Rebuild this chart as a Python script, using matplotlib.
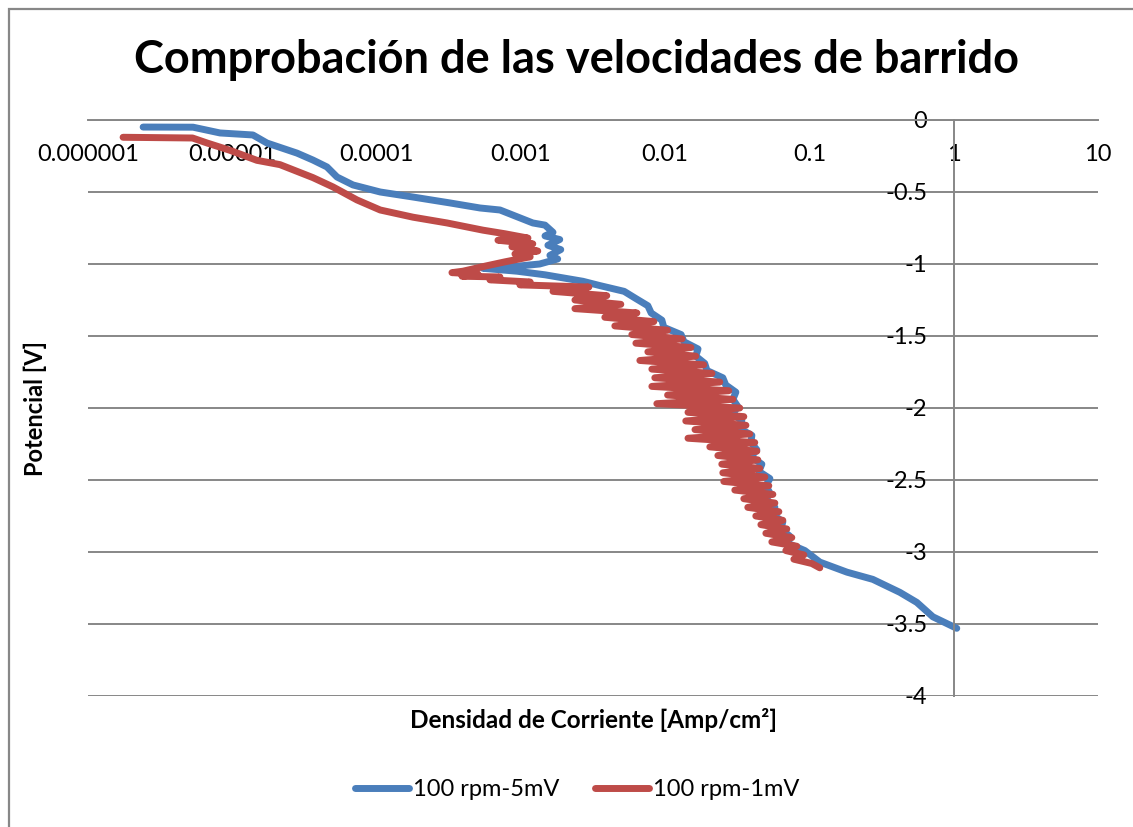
import matplotlib
matplotlib.use("Agg")
import matplotlib.pyplot as plt
from matplotlib.patches import Rectangle
from matplotlib.ticker import FixedLocator, FixedFormatter, NullLocator

plt.rcParams['font.family'] = ['Lato', 'DejaVu Sans']

# 100 rpm, scan rate 5 mV/s: current density [A/cm2] vs potential [V]
current_5mv = [
    2.41e-6, 5.35e-6, 8.22e-6, 1.39e-5, 1.74e-5, 2.81e-5, 3.62e-5, 4.53e-5,
    5.32e-5, 6.86e-5, 1.06e-4, 1.79e-4, 3.23e-4, 5.21e-4, 7.17e-4, 1.21e-3,
    1.47e-3, 1.67e-3, 1.47e-3, 1.86e-3, 1.54e-3, 1.89e-3, 1.59e-3, 1.80e-3,
    1.35e-3, 8.40e-4, 5.46e-4, 9.40e-4, 1.47e-3, 2.69e-3, 3.53e-3,
    5.20e-3, 6.27e-3, 7.59e-3, 8.00e-3, 9.49e-3, 9.79e-3, 1.29e-2, 1.35e-2,
    1.69e-2, 1.63e-2, 1.88e-2, 1.95e-2, 2.51e-2, 2.63e-2, 3.09e-2, 2.95e-2,
    3.19e-2, 2.95e-2, 3.40e-2, 3.24e-2, 3.99e-2, 3.93e-2, 4.32e-2, 3.93e-2,
    4.68e-2, 4.46e-2, 5.32e-2, 4.99e-2, 5.32e-2, 4.99e-2, 5.76e-2, 5.58e-2,
    6.54e-2, 6.34e-2, 7.31e-2, 7.09e-2,
    9.29e-2, 0.118, 0.182, 0.275, 0.423, 0.555, 0.717, 1.05,
]
potential_5mv = [
    -0.049, -0.05, -0.09, -0.104, -0.16, -0.23, -0.278, -0.326,
    -0.396, -0.451, -0.50, -0.535, -0.576, -0.611, -0.625, -0.715,
    -0.73, -0.78, -0.805, -0.83, -0.87, -0.90, -0.94, -0.965,
    -1.00, -1.02, -1.03, -1.05, -1.075, -1.12, -1.15,
    -1.19, -1.24, -1.29, -1.34, -1.39, -1.44, -1.49, -1.54,
    -1.59, -1.64, -1.69, -1.74, -1.79, -1.84, -1.89, -1.94,
    -1.99, -2.04, -2.09, -2.14, -2.19, -2.24, -2.29, -2.34,
    -2.39, -2.44, -2.49, -2.54, -2.59, -2.64, -2.69, -2.74,
    -2.79, -2.84, -2.89, -2.94,
    -2.99, -3.07, -3.14, -3.19, -3.28, -3.35, -3.45, -3.53,
]

# 100 rpm, scan rate 1 mV/s
current_1mv = [
    1.75e-6, 5.3e-6, 6.7e-6, 9.6e-6, 1.48e-5, 2.14e-5, 3.62e-5, 4.99e-5,
    7.31e-5, 1.06e-4, 1.79e-4, 3.08e-4, 5.46e-4, 7.76e-4,
    1.12e-3, 6.94e-4, 1.21e-3, 8.67e-4, 1.31e-3, 9.10e-4, 1.16e-3, 7.76e-4,
    5.64e-4, 3.97e-4, 3.33e-4, 5.04e-4, 3.91e-4, 7.16e-4, 6.11e-4, 1.16e-3,
    9.86e-4,
    2.96e-3, 1.67e-3, 3.94e-3, 2.37e-3, 4.93e-3, 2.37e-3, 6.37e-3, 3.82e-3,
    8.35e-3, 4.48e-3, 1.04e-2, 5.88e-3, 1.31e-2, 6.27e-3, 1.51e-2, 7.59e-3,
    1.63e-2, 6.68e-3, 1.85e-2, 8.09e-3, 2.11e-2, 8.48e-3, 2.39e-2, 8.09e-3,
    2.76e-2, 1.04e-2, 2.95e-2, 8.76e-3, 3.29e-2, 1.44e-2, 3.51e-2, 1.39e-2,
    3.63e-2, 1.61e-2, 3.86e-2, 1.44e-2, 4.18e-2, 2.04e-2, 4.32e-2, 2.32e-2,
    4.39e-2, 2.47e-2, 4.53e-2, 2.51e-2, 4.91e-2, 2.55e-2, 5.23e-2, 3.04e-2,
    5.58e-2, 3.51e-2, 5.76e-2, 3.74e-2, 6.14e-2, 4.25e-2, 6.54e-2, 4.61e-2,
    6.97e-2, 4.99e-2, 7.55e-2, 5.49e-2, 8.18e-2, 6.86e-2, 9.15e-2, 7.80e-2,
    0.104, 0.118,
]
potential_1mv = [
    -0.12, -0.125, -0.16, -0.21, -0.28, -0.31, -0.40, -0.465,
    -0.555, -0.625, -0.675, -0.715, -0.765, -0.79,
    -0.82, -0.835, -0.86, -0.88, -0.91, -0.93, -0.95, -0.985,
    -1.015, -1.05, -1.06, -1.07, -1.085, -1.09, -1.11, -1.125,
    -1.145,
    -1.16, -1.19, -1.22, -1.25, -1.28, -1.31, -1.34, -1.37,
    -1.40, -1.43, -1.46, -1.49, -1.52, -1.55, -1.58, -1.61,
    -1.64, -1.67, -1.70, -1.73, -1.76, -1.79, -1.82, -1.85,
    -1.88, -1.91, -1.94, -1.97, -2.00, -2.03, -2.06, -2.09,
    -2.12, -2.15, -2.18, -2.21, -2.24, -2.27, -2.30, -2.33,
    -2.36, -2.39, -2.42, -2.45, -2.48, -2.51, -2.54, -2.57,
    -2.60, -2.63, -2.66, -2.69, -2.72, -2.75, -2.78, -2.81,
    -2.84, -2.87, -2.90, -2.93, -2.96, -2.99, -3.02, -3.05,
    -3.08, -3.11,
]

series_labels = ["100 rpm-5mV", "100 rpm-1mV"]
x_ticks = [1e-6, 1e-5, 1e-4, 1e-3, 1e-2, 1e-1, 1, 10]
x_tick_labels = ["0.000001", "0.00001", "0.0001", "0.001", "0.01", "0.1", "1", "10"]
y_ticks = [0, -0.5, -1, -1.5, -2, -2.5, -3, -3.5, -4]
y_tick_labels = ["0", "-0.5", "-1", "-1.5", "-2", "-2.5", "-3", "-3.5", "-4"]

BLUE = "#4A7EBB"
RED = "#BE4B48"
GRID = "#878787"

W, H = 1133, 827
fig = plt.figure(figsize=(W / 100, H / 100), dpi=100)
fig.patch.set_facecolor("white")

# outer chart border
fig.add_artist(Rectangle((8.5 / W, -0.5), 2.0, 0.5 + (H - 8.5) / H,
                         transform=fig.transFigure, fill=False,
                         edgecolor=GRID, lw=1.6))

ax = fig.add_axes([88 / W, 131 / H, 1010 / W, 576 / H])
ax.set_xscale("log")
ax.set_xlim(1e-6, 10)
ax.set_ylim(-4, 0)

line_kw = dict(lw=5.0, solid_capstyle="round", solid_joinstyle="round")
h1, = ax.plot(current_5mv, potential_5mv, color=BLUE, label=series_labels[0], **line_kw)
h2, = ax.plot(current_1mv, potential_1mv, color=RED, label=series_labels[1], **line_kw)

ax.xaxis.set_major_locator(FixedLocator(x_ticks))
ax.xaxis.set_major_formatter(FixedFormatter(x_tick_labels))
ax.xaxis.set_minor_locator(NullLocator())
ax.yaxis.set_major_locator(FixedLocator(y_ticks))
ax.yaxis.set_major_formatter(FixedFormatter(y_tick_labels))

ax.yaxis.grid(True, color=GRID, lw=1.4)
ax.xaxis.grid(False)
ax.set_axisbelow(True)
for gl in ax.get_ygridlines():
    gl.set_clip_on(False)

for side in ("top", "right"):
    ax.spines[side].set_visible(False)
ax.spines["left"].set_position(("data", 1))
ax.spines["bottom"].set_position(("data", 0))
for side in ("left", "bottom"):
    ax.spines[side].set_color(GRID)
    ax.spines[side].set_linewidth(1.4)

ax.tick_params(axis="x", length=0, pad=17, labelsize=17)
ax.tick_params(axis="y", length=0, pad=19, labelsize=17)

fig.text(576 / W, 1 - 60 / H, "Comprobación de las velocidades de barrido",
         ha="center", va="center", fontsize=32.5, fontweight="bold")
fig.text(594 / W, 1 - 720 / H, "Densidad de Corriente [Amp/cm²]",
         ha="center", va="center", fontsize=17.5, fontweight="bold")
fig.text(35 / W, 1 - 408 / H, "Potencial [V]", rotation=90,
         ha="center", va="center", fontsize=17, fontweight="bold")

fig.legend(handles=[h1, h2], loc="center", bbox_to_anchor=(577 / W, 37 / H),
           ncol=2, frameon=False, fontsize=17, handlelength=2.3,
           handletextpad=0.15, columnspacing=1.5)

fig.savefig("out.png", dpi=100)
